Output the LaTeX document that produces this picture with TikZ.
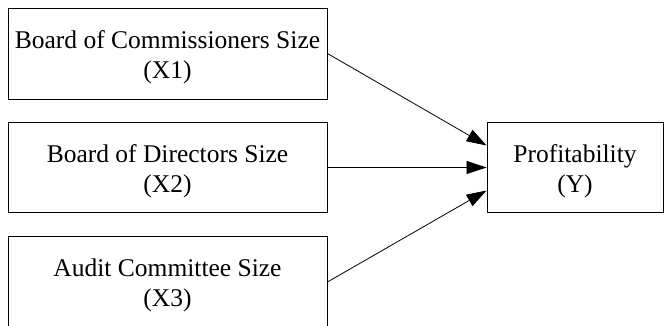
\documentclass[tikz,border=0pt]{standalone}
\usepackage{fontspec}
\setmainfont{Liberation Serif}
\usetikzlibrary{arrows.meta,positioning}

% first-line strut: keeps the two text lines a little below the box centre
\newcommand{\topstrut}{\rule{0pt}{25pt}}

\tikzset{
  factor/.style={draw, line width=0.9pt, minimum width=319pt, minimum height=91pt,
    align=center, font=\fontsize{25.5}{30}\selectfont, inner sep=0pt},
  outcome/.style={factor, minimum width=176pt, minimum height=90pt},
  link/.style={line width=0.8pt, -{Triangle[length=20pt,width=13pt]}}
}

\begin{document}
\begin{tikzpicture}[x=1pt,y=-1pt]
  \useasboundingbox (0,0) rectangle (664,326);
  \clip (0,0) rectangle (664,326);

  % explanatory variables
  \node[factor] (x1) at (167.5,53.5) {\topstrut Board of Commissioners Size\\(X1)};
  \node[factor, minimum height=90pt] (x2) at (167.5,167.5) {\topstrut Board of Directors Size\\(X2)};
  \node[factor] (x3) at (167.5,282) {\topstrut Audit Committee Size\\(X3)};

  % dependent variable
  \node[outcome] (y) at (575,167.5) {\topstrut Profitability\\(Y)};

  % arrow targets on the left side of the outcome box
  \coordinate (yin1) at ([yshift=22pt]y.west);
  \coordinate (yin3) at ([yshift=-23pt]y.west);

  \draw[link] (x1.east) -- (yin1);
  \draw[link] (x2.east) -- (y.west);
  \draw[link] (x3.east) -- (yin3);
\end{tikzpicture}
\end{document}
